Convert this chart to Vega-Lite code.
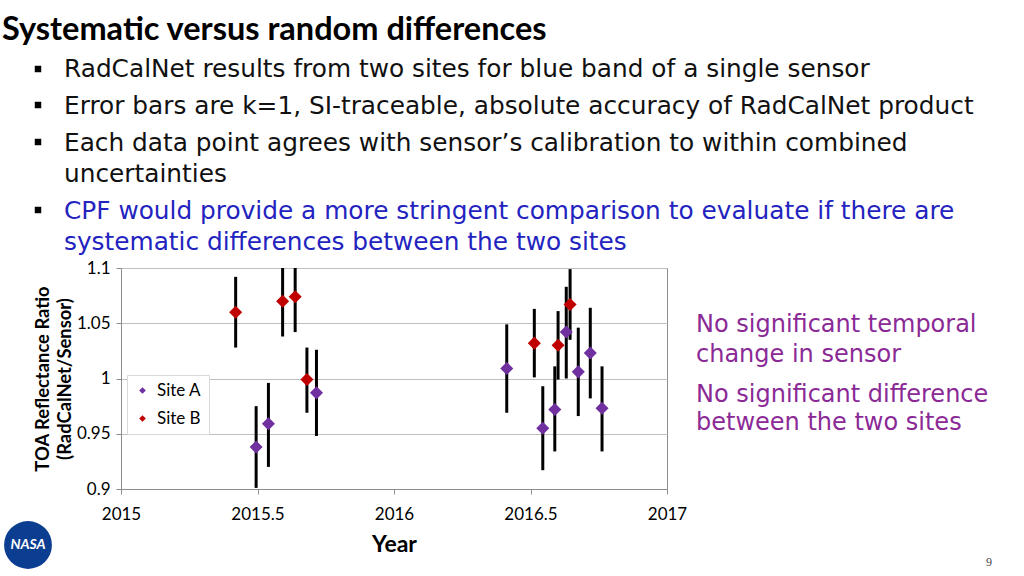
{
  "$schema": "https://vega.github.io/schema/vega-lite/v6.json",
  "width": 546,
  "height": 221,
  "autosize": {"type": "none"},
  "padding": {"left": 121, "top": 268, "right": 357, "bottom": 87},
  "background": "white",
  "config": {"view": {"stroke": "#8c8c8c", "strokeWidth": 1}, "font": "Lato"},
  "datasets": {
    "points": [
      {"site": "Site B", "year": 2015.420, "ratio": 1.060, "lo": 1.028, "hi": 1.092},
      {"site": "Site B", "year": 2015.592, "ratio": 1.070, "lo": 1.038, "hi": 1.102},
      {"site": "Site B", "year": 2015.638, "ratio": 1.074, "lo": 1.042, "hi": 1.106},
      {"site": "Site B", "year": 2015.681, "ratio": 0.999, "lo": 0.969, "hi": 1.028},
      {"site": "Site B", "year": 2016.514, "ratio": 1.032, "lo": 1.001, "hi": 1.063},
      {"site": "Site B", "year": 2016.601, "ratio": 1.030, "lo": 0.999, "hi": 1.061},
      {"site": "Site B", "year": 2016.645, "ratio": 1.067, "lo": 1.035, "hi": 1.099},
      {"site": "Site A", "year": 2015.495, "ratio": 0.938, "lo": 0.901, "hi": 0.975},
      {"site": "Site A", "year": 2015.540, "ratio": 0.959, "lo": 0.920, "hi": 0.996},
      {"site": "Site A", "year": 2015.716, "ratio": 0.987, "lo": 0.948, "hi": 1.026},
      {"site": "Site A", "year": 2016.413, "ratio": 1.009, "lo": 0.969, "hi": 1.049},
      {"site": "Site A", "year": 2016.545, "ratio": 0.955, "lo": 0.917, "hi": 0.993},
      {"site": "Site A", "year": 2016.589, "ratio": 0.972, "lo": 0.934, "hi": 1.011},
      {"site": "Site A", "year": 2016.631, "ratio": 1.042, "lo": 1.000, "hi": 1.083},
      {"site": "Site A", "year": 2016.675, "ratio": 1.006, "lo": 0.966, "hi": 1.046},
      {"site": "Site A", "year": 2016.719, "ratio": 1.023, "lo": 0.982, "hi": 1.064},
      {"site": "Site A", "year": 2016.762, "ratio": 0.973, "lo": 0.934, "hi": 1.011}
    ],
    "notes": [
      {"kind": "title", "col": 0, "row": 0, "text": "Systematic versus random differences"},
      {"kind": "body", "col": 2, "row": 1, "text": "RadCalNet results from two sites for blue band of a single sensor"},
      {"kind": "body", "col": 2, "row": 2, "text": "Error bars are k=1, SI-traceable, absolute accuracy of RadCalNet product"},
      {"kind": "body", "col": 2, "row": 3, "text": "Each data point agrees with sensor’s calibration to within combined"},
      {"kind": "body", "col": 2, "row": 4, "text": "uncertainties"},
      {"kind": "blue", "col": 2, "row": 5, "text": "CPF would provide a more stringent comparison to evaluate if there are"},
      {"kind": "blue", "col": 2, "row": 6, "text": "systematic differences between the two sites"},
      {"kind": "side", "col": 3, "row": 7, "text": "No significant temporal"},
      {"kind": "side", "col": 3, "row": 8, "text": "change in sensor"},
      {"kind": "side", "col": 3, "row": 9, "text": "No significant difference"},
      {"kind": "side", "col": 3, "row": 10, "text": "between the two sites"},
      {"kind": "bullet", "col": 1, "row": 13, "text": ""},
      {"kind": "bullet", "col": 1, "row": 14, "text": ""},
      {"kind": "bullet", "col": 1, "row": 15, "text": ""},
      {"kind": "bullet", "col": 1, "row": 16, "text": ""},
      {"kind": "logo", "col": 4, "row": 11, "text": "NASA"},
      {"kind": "page", "col": 5, "row": 12, "text": "9"}
    ]
  },
  "layer": [
    {
      "data": {"name": "points"},
      "layer": [
        {
          "mark": {"type": "rule", "clip": true, "strokeWidth": 3, "color": "black"},
          "encoding": {
            "x": {
              "field": "year", "type": "quantitative",
              "scale": {"domain": [2015, 2017], "nice": false, "zero": false},
              "axis": {
                "title": "Year", "titleFont": "Lato", "titleFontSize": 23, "titleFontWeight": "bold", "titleColor": "black", "titlePadding": 11,
                "values": [2015, 2015.5, 2016, 2016.5, 2017], "format": "~g", "labelFlush": false,
                "labelFont": "Lato", "labelFontSize": 17, "labelColor": "black", "labelPadding": 12,
                "grid": false, "tickSize": 5, "tickColor": "#8c8c8c", "domainColor": "#8c8c8c"
              }
            },
            "y": {
              "field": "lo", "type": "quantitative",
              "scale": {"domain": [0.9, 1.1], "nice": false, "zero": false},
              "axis": {
                "title": ["TOA Reflectance Ratio", "(RadCalNet/Sensor)"], "titleFont": "Lato", "titleFontSize": 18.4, "titleFontWeight": "bold", "titleColor": "black", "titleLineHeight": 22, "titlePadding": 2,
                "values": [0.9, 0.95, 1, 1.05, 1.1], "format": "~g", "labelFlush": false,
                "labelFont": "Lato", "labelFontSize": 17, "labelColor": "black", "labelPadding": 6,
                "grid": true, "gridColor": "#bfbfbf", "tickSize": 5, "tickColor": "#8c8c8c", "domainColor": "#8c8c8c"
              }
            },
            "y2": {"field": "hi"}
          }
        },
        {
          "mark": {"type": "point", "shape": "diamond", "filled": true, "size": 170, "opacity": 1},
          "encoding": {
            "x": {"field": "year", "type": "quantitative"},
            "y": {"field": "ratio", "type": "quantitative"},
            "color": {
              "field": "site", "type": "nominal",
              "scale": {"domain": ["Site A", "Site B"], "range": ["#7030a0", "#c00000"]},
              "legend": {
                "orient": "none", "legendX": 6, "legendY": 107, "title": null,
                "fillColor": "white", "strokeColor": "#d9d9d9", "padding": 7,
                "symbolType": "diamond", "symbolSize": 45, "labelFont": "Lato", "labelFontSize": 17, "labelColor": "black",
                "rowPadding": 10, "labelOffset": 6
              }
            }
          }
        }
      ]
    },
    {
      "data": {"name": "notes"},
      "encoding": {
        "x": {"field": "col", "type": "quantitative", "axis": null,
          "scale": {"domain": [0, 1, 2, 3, 4, 5], "range": [-119, -83, -57, 575, -93, 868], "nice": false, "zero": false}},
        "y": {"field": "row", "type": "quantitative", "axis": null,
          "scale": {"domain": [0, 1, 2, 3, 4, 5, 6, 7, 8, 9, 10, 11, 12, 13, 14, 15, 16],
                    "range": [-228, -191, -154, -117, -86, -49, -18, 64, 94, 134, 162, 277, 298, -199, -163, -126, -58], "nice": false, "zero": false}}
      },
      "layer": [
        {"transform": [{"filter": "datum.kind == 'title'"}],
         "mark": {"type": "text", "font": "Lato", "fontWeight": "bold", "fontSize": 32.5, "align": "left", "baseline": "alphabetic", "color": "black"},
         "encoding": {"text": {"field": "text"}}},
        {"transform": [{"filter": "datum.kind == 'body'"}],
         "mark": {"type": "text", "font": "DejaVu Sans", "fontSize": 24.8, "align": "left", "baseline": "alphabetic", "color": "#111111"},
         "encoding": {"text": {"field": "text"}}},
        {"transform": [{"filter": "datum.kind == 'blue'"}],
         "mark": {"type": "text", "font": "DejaVu Sans", "fontSize": 24.8, "align": "left", "baseline": "alphabetic", "color": "#2323c0"},
         "encoding": {"text": {"field": "text"}}},
        {"transform": [{"filter": "datum.kind == 'side'"}],
         "mark": {"type": "text", "font": "DejaVu Sans", "fontSize": 24, "align": "left", "baseline": "alphabetic", "color": "#8b2a96"},
         "encoding": {"text": {"field": "text"}}},
        {"transform": [{"filter": "datum.kind == 'bullet'"}],
         "mark": {"type": "point", "shape": "square", "filled": true, "size": 42, "color": "black", "opacity": 1}},
        {"transform": [{"filter": "datum.kind == 'logo'"}],
         "mark": {"type": "point", "shape": "circle", "filled": true, "size": 2290, "color": "#0b3d91", "opacity": 1}},
        {"transform": [{"filter": "datum.kind == 'logo'"}],
         "mark": {"type": "text", "font": "Lato", "fontWeight": "bold", "fontStyle": "italic", "fontSize": 14, "align": "center", "baseline": "middle", "color": "white"},
         "encoding": {"text": {"field": "text"}}},
        {"transform": [{"filter": "datum.kind == 'page'"}],
         "mark": {"type": "text", "font": "Liberation Serif", "fontSize": 12, "align": "center", "baseline": "alphabetic", "color": "#444444"},
         "encoding": {"text": {"field": "text"}}}
      ]
    }
  ],
  "resolve": {"scale": {"x": "independent", "y": "independent"}}
}
